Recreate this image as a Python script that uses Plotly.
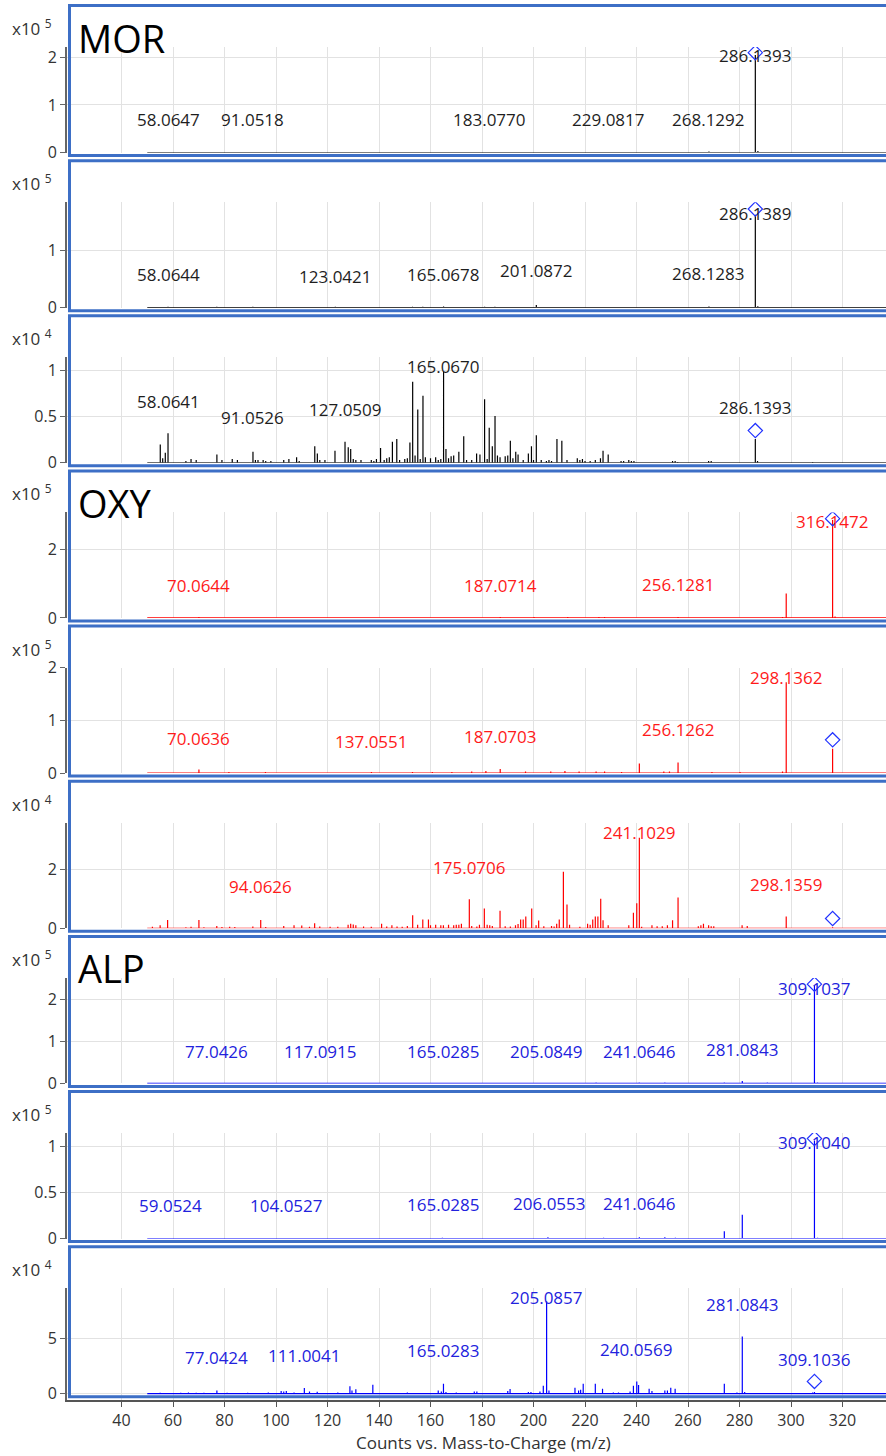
import plotly.graph_objects as go

# ---------------- data ----------------
# panel 1  MOR (x10^5)
mor1_mz = [58.06, 91.05, 154.0, 169.5, 181.0, 183.08, 198.6, 200.6, 228.5, 229.08, 237.0, 268.13, 286.14, 287.14, 288.0]
mor1_int = [0.01, 0.006, 0.015, 0.01, 0.015, 0.012, 0.01, 0.015, 0.01, 0.015, 0.01, 0.02, 2.05, 0.03, 0.01]
mor1_lbl = ["58.0647", "91.0518", "183.0770", "229.0817", "268.1292", "286.1393"]
mor1_lbl_y = [0.69, 0.69, 0.69, 0.69, 0.69, 2.04]

# panel 2  MOR (x10^5)
mor2_mz = [51.0, 53.0, 55.0, 58.06, 60.0, 63.0, 65.0, 67.0, 69.0, 72.0, 75.0, 77.0, 80.0, 83.0, 86.0, 91.0, 94.0,
           98.0, 101.0, 105.0, 108.0, 111.0, 115.0, 118.0, 123.04, 127.0, 131.0, 135.0, 139.0, 141.0, 145.0, 149.0,
           153.0, 157.0, 161.0, 165.07, 169.0, 173.0, 177.0, 181.0, 185.0, 189.0, 193.0, 197.0, 201.09, 205.0,
           209.0, 213.0, 217.0, 221.0, 225.0, 229.0, 233.0, 237.0, 241.0, 245.0, 249.0, 253.0, 257.0, 261.0, 265.0,
           268.13, 272.0, 276.0, 280.0, 284.0, 286.14, 287.1, 290.0, 294.0, 298.0, 302.0, 306.0, 310.0, 314.0,
           318.0, 322.0, 326.0, 330.0, 334.0]
mor2_int = [0.01, 0.01, 0.012, 0.015, 0.01, 0.012, 0.01, 0.012, 0.01, 0.01, 0.012, 0.015, 0.01, 0.01, 0.01, 0.015,
            0.01, 0.01, 0.01, 0.012, 0.01, 0.01, 0.012, 0.01, 0.015, 0.012, 0.012, 0.01, 0.01, 0.012, 0.012, 0.012,
            0.015, 0.015, 0.012, 0.02, 0.012, 0.012, 0.012, 0.015, 0.015, 0.012, 0.012, 0.012, 0.045, 0.012,
            0.012, 0.012, 0.01, 0.01, 0.012, 0.012, 0.01, 0.01, 0.01, 0.01, 0.01, 0.012, 0.01, 0.01, 0.01,
            0.02, 0.01, 0.01, 0.01, 0.012, 1.62, 0.025, 0.01, 0.01, 0.01, 0.01, 0.01, 0.01, 0.01,
            0.01, 0.01, 0.01, 0.01, 0.01]
mor2_lbl = ["58.0644", "123.0421", "165.0678", "201.0872", "268.1283", "286.1389"]
mor2_lbl_y = [0.57, 0.55, 0.57, 0.64, 0.59, 1.65]

# panel 3  MOR (x10^4)
mor3_mz = [55.05, 56.0, 57.0, 58.06, 65.0, 67.0, 69.0, 77.04, 79.0, 83.0, 85.0, 91.05, 92.0, 93.0, 95.0, 96.0, 98.0,
           103.0, 105.0, 108.0, 109.0, 115.05, 116.05, 117.0, 119.0, 122.9, 126.8, 128.05, 129.0, 130.0, 131.0,
           133.0, 137.0, 138.0, 139.0, 140.6, 142.0, 143.0, 144.0, 145.2, 146.9, 148.0, 150.0, 151.0, 152.0,
           153.07, 154.0, 155.05, 156.0, 157.07, 158.0, 160.0, 162.0, 163.0, 164.0, 165.07, 166.0, 167.0, 168.0,
           169.0, 171.0, 172.9, 174.0, 176.0, 177.9, 179.2, 181.0, 182.0, 182.8, 184.0, 185.05, 186.0, 187.0,
           189.0, 190.0, 191.0, 192.0, 193.1, 194.0, 196.0, 198.0, 199.2, 200.0, 201.09, 203.0, 205.0, 206.0,
           207.0, 209.1, 211.0, 213.0, 217.0, 218.0, 219.0, 220.0, 222.0, 224.0, 226.0, 227.0, 229.0, 234.0,
           235.0, 237.0, 238.0, 239.0, 254.0, 255.0, 256.0, 268.0, 269.0, 286.14, 287.0, 308.4]
mor3_int = [0.20, 0.05, 0.11, 0.32, 0.02, 0.04, 0.03, 0.09, 0.03, 0.04, 0.03, 0.12, 0.03, 0.03, 0.03, 0.02, 0.02,
            0.03, 0.04, 0.06, 0.02, 0.18, 0.10, 0.03, 0.03, 0.13, 0.23, 0.17, 0.15, 0.04, 0.03,
            0.03, 0.03, 0.02, 0.04, 0.16, 0.03, 0.05, 0.06, 0.23, 0.26, 0.03, 0.04, 0.05, 0.22,
            0.88, 0.08, 0.58, 0.04, 0.73, 0.06, 0.05, 0.06, 0.03, 0.04, 0.99, 0.15, 0.05, 0.07,
            0.08, 0.12, 0.29, 0.03, 0.03, 0.10, 0.09, 0.69, 0.04, 0.38, 0.18, 0.51, 0.08, 0.06,
            0.07, 0.08, 0.24, 0.05, 0.12, 0.09, 0.03, 0.10, 0.18, 0.03, 0.30, 0.03, 0.02, 0.03,
            0.02, 0.26, 0.24, 0.03, 0.05, 0.03, 0.04, 0.02, 0.02, 0.03, 0.05, 0.13, 0.09, 0.02,
            0.02, 0.03, 0.02, 0.02, 0.02, 0.02, 0.01, 0.02, 0.02, 0.26, 0.02, 0.01]
mor3_lbl = ["58.0641", "91.0526", "127.0509", "165.0670", "286.1393"]
mor3_lbl_y = [0.67, 0.49, 0.58, 1.05, 0.60]

# panel 4  OXY (x10^5)
oxy1_mz = [70.06, 153.0, 180.4, 187.07, 196.9, 200.2, 213.3, 221.0, 225.4, 227.6, 240.7, 243.0, 248.4, 253.9,
           256.13, 257.2, 270.4, 296.7, 298.14, 313.0, 316.15, 317.1, 318.0, 320.0]
oxy1_int = [0.03, 0.02, 0.02, 0.03, 0.02, 0.03, 0.03, 0.02, 0.03, 0.03, 0.02, 0.02, 0.02, 0.02,
            0.03, 0.02, 0.02, 0.03, 0.71, 0.02, 2.85, 0.04, 0.02, 0.02]
oxy1_lbl = ["70.0644", "187.0714", "256.1281", "316.1472"]
oxy1_lbl_y = [0.95, 0.95, 0.98, 2.80]

# panel 5  OXY (x10^5)
oxy2_mz = [70.06, 81.7, 95.9, 137.06, 153.0, 160.7, 168.3, 176.0, 181.5, 187.07, 196.9, 206.7, 212.2, 217.7,
           224.3, 227.6, 234.2, 241.1, 250.6, 252.8, 256.13, 269.3, 280.2, 296.7, 298.14, 316.15]
oxy2_int = [0.07, 0.02, 0.02, 0.02, 0.02, 0.02, 0.02, 0.03, 0.04, 0.08, 0.03, 0.03, 0.04, 0.03,
            0.03, 0.03, 0.02, 0.18, 0.03, 0.03, 0.20, 0.02, 0.02, 0.03, 1.72, 0.46]
oxy2_lbl = ["70.0636", "137.0551", "187.0703", "256.1262", "298.1362"]
oxy2_lbl_y = [0.66, 0.60, 0.69, 0.82, 1.81]

# panel 6  OXY (x10^4)
oxy3_mz = [52.0, 55.0, 57.9, 65.0, 67.0, 70.06, 72.0, 77.0, 79.0, 82.0, 84.0, 91.0, 94.06, 96.0, 103.0, 107.0,
           110.0, 113.0, 115.0, 117.0, 121.0, 124.0, 128.0, 129.0, 130.0, 131.0, 134.0, 137.0, 141.0, 143.0,
           145.0, 147.0, 149.0, 151.0, 153.07, 155.0, 157.0, 159.2, 160.0, 162.0, 164.0, 165.0, 167.0, 169.0,
           170.0, 171.0, 172.0, 175.07, 176.0, 178.0, 179.0, 180.9, 182.0, 183.0, 184.0, 187.0, 189.0, 191.0,
           193.0, 194.0, 195.0, 196.0, 197.0, 199.3, 201.0, 202.0, 204.0, 207.0, 208.0, 209.0, 210.0, 211.6,
           213.0, 214.0, 218.0, 221.0, 222.0, 223.0, 224.0, 225.0, 226.1, 227.0, 229.0, 237.0, 238.8, 240.1,
           241.1, 242.0, 246.0, 248.0, 250.0, 252.0, 254.0, 256.13, 264.0, 265.0, 266.0, 268.0, 269.0, 270.0,
           281.0, 283.0, 298.14, 316.15]
oxy3_int = [0.05, 0.10, 0.28, 0.03, 0.05, 0.28, 0.03, 0.08, 0.04, 0.05, 0.04, 0.06, 0.28, 0.04, 0.08, 0.10,
            0.09, 0.05, 0.17, 0.06, 0.05, 0.05, 0.12, 0.15, 0.13, 0.10, 0.06, 0.05, 0.15, 0.06,
            0.10, 0.06, 0.05, 0.08, 0.44, 0.12, 0.30, 0.30, 0.10, 0.12, 0.10, 0.10, 0.12, 0.10,
            0.12, 0.12, 0.15, 0.98, 0.08, 0.06, 0.12, 0.67, 0.12, 0.10, 0.08, 0.59, 0.07, 0.06,
            0.10, 0.14, 0.30, 0.30, 0.40, 0.67, 0.10, 0.26, 0.07, 0.08, 0.06, 0.15, 0.30, 1.92,
            0.81, 0.12, 0.05, 0.15, 0.12, 0.30, 0.40, 0.40, 1.00, 0.27, 0.10, 0.10, 0.53, 0.85,
            3.07, 0.05, 0.10, 0.07, 0.07, 0.10, 0.27, 1.04, 0.07, 0.10, 0.15, 0.10, 0.07, 0.07,
            0.10, 0.08, 0.40, 0.03]
oxy3_lbl = ["94.0626", "175.0706", "241.1029", "298.1359"]
oxy3_lbl_y = [1.41, 2.06, 3.26, 1.49]

# panel 7  ALP (x10^5)
alp1_mz = [224.3, 241.06, 251.0, 274.1, 281.08, 290.8, 309.10, 310.3]
alp1_int = [0.02, 0.02, 0.02, 0.02, 0.055, 0.02, 2.33, 0.02]
alp1_lbl = ["77.0426", "117.0915", "165.0285", "205.0849", "241.0646", "281.0843", "309.1037"]
alp1_lbl_y = [0.77, 0.77, 0.77, 0.77, 0.77, 0.81, 2.26]

# panel 8  ALP (x10^5)
alp2_mz = [164.6, 205.6, 227.2, 241.1, 251.0, 255.1, 274.1, 281.08, 309.10, 310.3]
alp2_int = [0.01, 0.015, 0.01, 0.015, 0.015, 0.01, 0.08, 0.26, 1.07, 0.01]
alp2_lbl = ["59.0524", "104.0527", "165.0285", "206.0553", "241.0646", "309.1040"]
alp2_lbl_y = [0.36, 0.36, 0.37, 0.38, 0.38, 1.05]

# panel 9  ALP (x10^4)
alp3_mz = [55.0, 63.0, 66.0, 69.0, 72.0, 77.04, 81.0, 89.0, 97.0, 102.0, 103.0, 104.0, 107.0, 111.0, 113.0,
           116.0, 124.0, 128.7, 129.5, 131.0, 137.6, 151.0, 163.0, 164.2, 165.03, 166.0, 170.0, 177.0,
           178.0, 190.0, 190.9, 198.0, 199.0, 202.5, 203.8, 205.09, 206.0, 216.1, 217.5, 218.3, 219.3,
           224.0, 226.8, 231.0, 233.0, 237.5, 238.8, 240.1, 240.8, 244.9, 246.0, 251.0, 252.0, 253.3,
           255.0, 274.1, 279.0, 281.08, 282.0, 308.4, 309.1]
alp3_int = [0.08, 0.08, 0.12, 0.08, 0.08, 0.30, 0.08, 0.08, 0.12, 0.25, 0.20, 0.25, 0.12, 0.52, 0.20,
            0.18, 0.10, 0.67, 0.30, 0.40, 0.82, 0.12, 0.30, 0.20, 0.90, 0.15, 0.10, 0.20,
            0.20, 0.25, 0.43, 0.15, 0.15, 0.20, 0.73, 8.40, 0.30, 0.55, 0.30, 0.35, 0.90,
            0.90, 0.45, 0.12, 0.12, 0.20, 0.73, 1.12, 0.80, 0.45, 0.25, 0.30, 0.30, 0.55,
            0.45, 0.90, 0.12, 5.20, 0.15, 0.12, 0.15]
alp3_lbl = ["77.0424", "111.0041", "165.0283", "205.0857", "240.0569", "281.0843", "309.1036"]
alp3_lbl_y = [3.33, 3.45, 3.90, 8.70, 4.06, 8.15, 3.15]

# precursor (diamond) marker per panel: m/z and height
prec_mz = [286.14, 286.14, 286.14, 316.15, 316.15, 316.15, 309.10, 309.10, 309.10]
prec_y = [2.10, 1.72, 0.35, 2.89, 0.63, 0.33, 2.36, 1.09, 1.12]

panel_mz = [mor1_mz, mor2_mz, mor3_mz, oxy1_mz, oxy2_mz, oxy3_mz, alp1_mz, alp2_mz, alp3_mz]
panel_int = [mor1_int, mor2_int, mor3_int, oxy1_int, oxy2_int, oxy3_int, alp1_int, alp2_int, alp3_int]
panel_lbl = [mor1_lbl, mor2_lbl, mor3_lbl, oxy1_lbl, oxy2_lbl, oxy3_lbl, alp1_lbl, alp2_lbl, alp3_lbl]
panel_lbl_y = [mor1_lbl_y, mor2_lbl_y, mor3_lbl_y, oxy1_lbl_y, oxy2_lbl_y, oxy3_lbl_y, alp1_lbl_y, alp2_lbl_y, alp3_lbl_y]
panel_exp = [5, 5, 4, 5, 5, 4, 5, 5, 4]
panel_yticks = [[0, 1, 2], [0, 1], [0, 0.5, 1], [0, 2], [0, 1, 2], [0, 2], [0, 1, 2], [0, 0.5, 1], [0, 5]]
panel_ytop = [2.22, 1.84, 1.147, 3.07, 2.0, 3.58, 2.51, 1.15, 9.59]
panel_titles = {0: "MOR", 3: "OXY", 6: "ALP"}
x_ticks = [40, 60, 80, 100, 120, 140, 160, 180, 200, 220, 240, 260, 280, 300, 320]

# ---------------- styling / layout ----------------
W, H = 886, 1456
ML, MB = 67, 56
PH = H - MB          # paper height in px (t=0)
PW = W - ML
PX_PER_MZ = 2.575
XMIN = 18.83
XMAX = XMIN + PW / PX_PER_MZ

line_colors = ["#000000"] * 3 + ["#ff0000"] * 3 + ["#0000ff"] * 3
text_colors = ["#1e1e1e"] * 3 + ["#ff1a1a"] * 3 + ["#2222dd"] * 3
BORDER = "#3d6fc6"
FONT = "Open Sans"


def py(px):
    return (PH - px) / PH


def pxx(px):
    return (px - ML) / PW


fig = go.Figure()
layout = dict(
    template="none",
    width=W, height=H, margin=dict(l=ML, r=0, t=0, b=MB, pad=0, autoexpand=False),
    paper_bgcolor="white", plot_bgcolor="white", showlegend=False,
    font=dict(family=FONT, color="#333333"),
)
annotations = []
shapes = []

for i in range(9):
    n = i + 1
    box_top = 5.5 + 155.15 * i
    box_bot = box_top + 150
    zero = box_bot - 3
    ptop = box_top + 41.5
    ytop = panel_ytop[i]
    ppu = (zero - ptop) / ytop
    if i == 8:
        dom = [0, py(ptop)]
        ybot = -(PH - zero) / ppu
    else:
        dom = [py(zero), py(ptop)]
        ybot = 0

    # stem spectrum
    pairs = sorted(zip(panel_mz[i], panel_int[i]))
    xs, ys = [50.0], [0.0]
    for m, h in pairs:
        xs += [m, m, m]
        ys += [0, h, 0]
    xs.append(XMAX + 5)
    ys.append(0)
    xa = "x" if i == 0 else f"x{n}"
    ya = "y" if i == 0 else f"y{n}"
    fig.add_trace(go.Scatter(x=xs, y=ys, mode="lines", xaxis=xa, yaxis=ya,
                             line=dict(color=line_colors[i], width=1.2), hoverinfo="skip"))
    fig.add_trace(go.Scatter(x=[prec_mz[i]], y=[prec_y[i]], mode="markers", xaxis=xa, yaxis=ya,
                             marker=dict(symbol="diamond-open", size=11, color="#2233ff",
                                         line=dict(width=1.2, color="#2233ff")),
                             hoverinfo="skip"))

    xkey = "xaxis" if i == 0 else f"xaxis{n}"
    ykey = "yaxis" if i == 0 else f"yaxis{n}"
    xd = dict(domain=[0, 1], anchor=ya, range=[XMIN, XMAX], tickvals=x_ticks, automargin=False,
              showgrid=True, gridcolor="#e2e2e2", gridwidth=1, zeroline=False,
              showticklabels=(i == 8), showline=False, ticks="")
    if i > 0:
        xd["matches"] = "x"
    if i == 8:
        xd.update(showline=True, linecolor="#555555", linewidth=2, ticks="outside",
                  ticklen=5, tickcolor="#555555", tickfont=dict(size=16, color="#333333", family=FONT))
    layout[xkey] = xd
    layout[ykey] = dict(domain=dom, anchor=xa, range=[ybot, ytop], tickvals=panel_yticks[i],
                        automargin=False,
                        showgrid=True, gridcolor="#e2e2e2", zeroline=False,
                        showline=True, linecolor="#666666", linewidth=2,
                        ticks="outside", ticklen=5, tickcolor="#666666",
                        tickfont=dict(size=16, color="#333333", family=FONT))

    # peak labels
    for t, yv in zip(panel_lbl[i], panel_lbl_y[i]):
        annotations.append(dict(x=float(t), y=yv, xref=xa, yref=ya, text=t, showarrow=False,
                                xanchor="center", yanchor="middle",
                                font=dict(size=17, color=text_colors[i], family=FONT)))
    # exponent label
    annotations.append(dict(x=pxx(10), y=py(box_top + 22), xref="paper", yref="paper",
                            xanchor="left", yanchor="middle", showarrow=False,
                            text=f"x10 <sup>{panel_exp[i]}</sup>",
                            font=dict(size=17, color="#333333", family=FONT)))
    # compound title
    if i in panel_titles:
        annotations.append(dict(x=pxx(76), y=py(box_top + 4), xref="paper", yref="paper",
                                xanchor="left", yanchor="top", showarrow=False,
                                text=panel_titles[i],
                                font=dict(size=38, color="#000000", family=FONT)))
    # panel border
    shapes.append(dict(type="rect", xref="paper", yref="paper",
                       x0=pxx(69.5), x1=1.02, y0=py(box_bot), y1=py(box_top),
                       line=dict(color=BORDER, width=3), layer="above"))

annotations.append(dict(x=pxx(483), y=py(1442), xref="paper", yref="paper", showarrow=False,
                        text="Counts vs. Mass-to-Charge (m/z)", xanchor="center", yanchor="middle",
                        font=dict(size=17, color="#333333", family=FONT)))

layout["annotations"] = annotations
layout["shapes"] = shapes
fig.update_layout(**layout)
fig.write_html("out.html", config={"displayModeBar": False},
               post_script="document.body.style.margin='0';document.body.style.overflow='hidden';")
